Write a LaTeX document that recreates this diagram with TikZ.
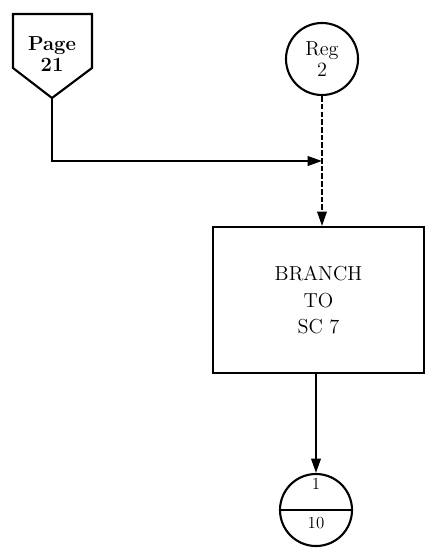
\documentclass[tikz,border=0pt]{standalone}
\usepackage{tikz}
\usetikzlibrary{arrows.meta,positioning}

\begin{document}
\begin{tikzpicture}[
  x=0.025cm,y=-0.025cm,
  font=\Large,
  l/.style={line width=1.5pt},
  a/.style={-{Triangle[length=3.6mm,width=2.4mm]},line width=1.4pt},
  ad/.style={-{Triangle[length=3.6mm,width=2.4mm]},line width=1.2pt,dash pattern=on 4pt off 1.5pt},
  conn/.style={draw,circle,line width=1.5pt,minimum size=1.8cm,inner sep=0pt,align=center},
  box/.style={draw,line width=1.5pt,minimum width=5.28cm,minimum height=3.65cm,align=center}]
\useasboundingbox (0,0) rectangle (426,552);

% off-page connector
\node[align=center,font=\Large\bfseries,inner sep=0pt] (pg) at (52,54) {Page\\[-3pt]21};
\coordinate (pgtip) at (52,98);
\draw[l,line join=miter] (13,68) -- (13,14) -- (92,14) -- (92,68) -- (pgtip) -- cycle;

\node[conn] (reg) at (322,59) {Reg\\[-3pt]2};
\node[box] (br) at (318.5,300) {BRANCH\\[1pt]TO\\[1pt]SC 7};

% on-page connector, split
\node[conn] (ten) at (316,510) {};
\draw[l] (ten.west) -- (ten.east);
\node[font=\large,inner sep=0pt] (tenup) at (316,484) {1};
\node[font=\large,inner sep=0pt] (tenlo) at (316,523) {10};

\coordinate (join) at (322,161);
\draw[ad] (reg.south) -- (reg.south |- br.north);
\draw[a] (pgtip) |- (join);
\draw[a] (br.south -| ten.north) -- (ten.north);
\end{tikzpicture}
\end{document}
